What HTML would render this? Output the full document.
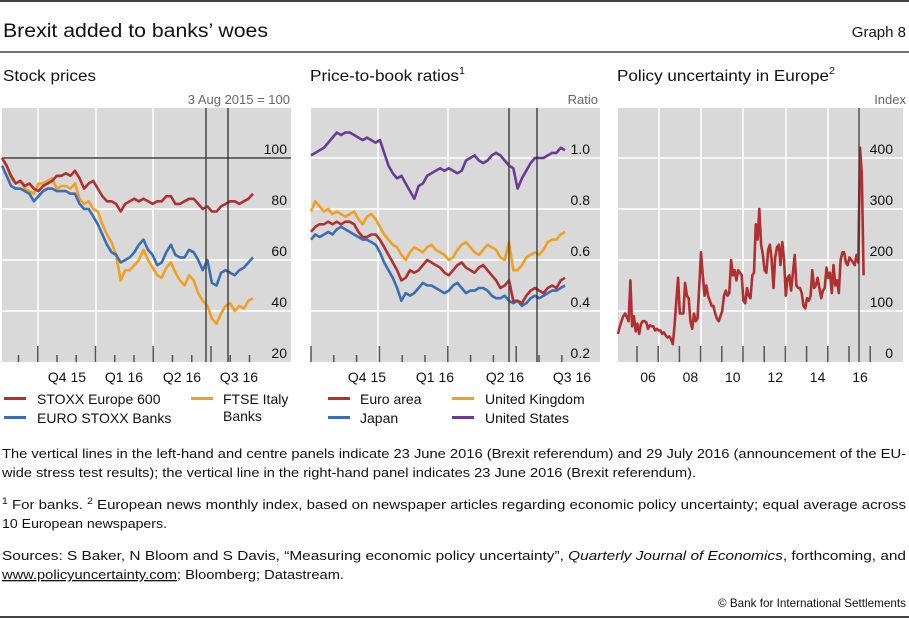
<!DOCTYPE html>
<html><head><meta charset="utf-8"><style>
body{margin:0;background:#fff;}
svg{display:block;font-family:"Liberation Sans",sans-serif;}
</style></head><body>
<svg id="c" width="909" height="619" viewBox="0 0 909 619" xmlns="http://www.w3.org/2000/svg">
<line x1="0" y1="1" x2="909" y2="1" stroke="#444" stroke-width="2"/>
<text x="3" y="37" font-size="19" fill="#111" textLength="265" lengthAdjust="spacingAndGlyphs">Brexit added to banks’ woes</text>
<text x="906" y="37" font-size="15" fill="#111" text-anchor="end">Graph 8</text>
<line x1="0" y1="52" x2="909" y2="52" stroke="#444" stroke-width="1.5"/>
<text x="3" y="81" font-size="16" fill="#111" textLength="93" lengthAdjust="spacingAndGlyphs">Stock prices</text>
<text x="310" y="81" font-size="16" fill="#111" textLength="155" lengthAdjust="spacingAndGlyphs">Price-to-book ratios<tspan font-size="10" dy="-7">1</tspan></text>
<text x="617" y="81" font-size="16" fill="#111" textLength="218" lengthAdjust="spacingAndGlyphs">Policy uncertainty in Europe<tspan font-size="10" dy="-7">2</tspan></text>
<text x="290" y="104" font-size="13" fill="#666" text-anchor="end">3 Aug 2015 = 100</text>
<text x="598" y="104" font-size="13" fill="#666" text-anchor="end">Ratio</text>
<text x="906" y="104" font-size="13" fill="#666" text-anchor="end">Index</text>
<g id="p1"></g>
<g id="p2"></g>
<g id="p3"></g>
<g font-size="14" fill="#111">
<g><rect x="4" y="397" width="22" height="3" fill="#b03030"/><text x="37" y="404">STOXX Europe 600</text></g>
<g><rect x="4" y="416" width="22" height="3" fill="#3b6db4"/><text x="37" y="423">EURO STOXX Banks</text></g>
<g><rect x="191" y="397" width="22" height="3" fill="#f0a020"/><text x="223" y="404">FTSE Italy</text><text x="223" y="421">Banks</text></g>
<g><rect x="328" y="397" width="22" height="3" fill="#b03030"/><text x="360" y="404">Euro area</text></g>
<g><rect x="328" y="416" width="22" height="3" fill="#3b6db4"/><text x="360" y="423">Japan</text></g>
<g><rect x="452" y="397" width="22" height="3" fill="#f0a020"/><text x="485" y="404">United Kingdom</text></g>
<g><rect x="452" y="416" width="22" height="3" fill="#6b3a96"/><text x="485" y="423">United States</text></g>
</g>
<g font-size="13" fill="#111">
<text x="2" y="458" textLength="904" lengthAdjust="spacingAndGlyphs">The vertical lines in the left-hand and centre panels indicate 23 June 2016 (Brexit referendum) and 29 July 2016 (announcement of the EU-</text>
<text x="2" y="477" textLength="694" lengthAdjust="spacingAndGlyphs">wide stress test results); the vertical line in the right-hand panel indicates 23 June 2016 (Brexit referendum).</text>
<text x="2" y="509" textLength="904" lengthAdjust="spacingAndGlyphs"><tspan font-size="9" dy="-5">1</tspan><tspan dy="5">  For banks.   </tspan><tspan font-size="9" dy="-5">2</tspan><tspan dy="5">  European news monthly index, based on newspaper articles regarding economic policy uncertainty; equal average across</tspan></text>
<text x="2" y="528" textLength="165" lengthAdjust="spacingAndGlyphs">10 European newspapers.</text>
<text x="2" y="560" textLength="904" lengthAdjust="spacingAndGlyphs">Sources: S Baker, N Bloom and S Davis, “Measuring economic policy uncertainty”, <tspan font-style="italic">Quarterly Journal of Economics</tspan>, forthcoming, and</text>
<text x="2" y="579" textLength="342" lengthAdjust="spacingAndGlyphs"><tspan text-decoration="underline">www.policyuncertainty.com</tspan>; Bloomberg; Datastream.</text>
<text x="906" y="607" font-size="12" text-anchor="end" textLength="188" lengthAdjust="spacingAndGlyphs">© Bank for International Settlements</text>
</g>
<line x1="0" y1="617" x2="909" y2="617" stroke="#444" stroke-width="2"/>
</svg>
<script>
// Panel 1: stock prices (weekly, 3 Aug 2015 = 100)
const stoxx600 = [100,97,93,90,91,89,90,88,87,89,90,91,93,93,94,93,95,92,88,90,91,88,85,83,83,82,79,82,83,84,83,84,83,82,83,83,85,85,82,82,83,84,84,82,80,81,79,79,81,82,83,83,82,83,84,86];
const ftseItalyBanks = [100,97,92,90,91,88,87,86,90,90,91,92,88,89,89,88,90,84,82,83,80,79,74,70,67,62,52,56,56,58,60,64,60,57,54,53,57,59,55,52,50,54,52,47,44,42,37,35,39,42,43,40,42,41,44,45];
const euroStoxxBanks = [97,93,89,88,88,87,86,83,85,87,88,88,87,87,87,86,86,82,80,80,77,74,70,66,63,62,59,60,61,63,66,68,64,62,58,59,63,66,62,61,61,64,63,60,56,60,51,50,55,56,55,54,56,57,59,61];
const p1Ticks = [20,40,60,80,100];
const p1QuarterLabels = ["Q4 15","Q1 16","Q2 16","Q3 16"];
// Panel 2: price-to-book ratios
const pbUS = [1.01,1.02,1.03,1.04,1.06,1.08,1.10,1.09,1.10,1.10,1.09,1.08,1.07,1.08,1.07,1.06,1.07,1.02,0.97,0.94,0.92,0.93,0.90,0.87,0.84,0.89,0.90,0.93,0.94,0.95,0.96,0.95,0.96,0.95,0.94,0.95,0.99,1.00,1.01,0.99,0.98,0.99,1.01,1.02,1.01,0.99,0.97,0.96,0.88,0.92,0.95,0.98,1.00,1.00,1.00,1.01,1.02,1.02,1.04,1.03];
const pbUK = [0.79,0.83,0.81,0.79,0.80,0.78,0.79,0.78,0.77,0.78,0.79,0.76,0.74,0.77,0.78,0.76,0.73,0.70,0.68,0.66,0.65,0.62,0.60,0.63,0.65,0.64,0.63,0.65,0.66,0.64,0.63,0.62,0.60,0.61,0.64,0.66,0.67,0.65,0.63,0.62,0.64,0.66,0.65,0.64,0.61,0.60,0.67,0.56,0.56,0.58,0.61,0.62,0.63,0.62,0.64,0.67,0.68,0.68,0.70,0.71];
const pbEuro = [0.71,0.73,0.74,0.74,0.75,0.74,0.75,0.74,0.75,0.75,0.74,0.71,0.69,0.69,0.70,0.70,0.68,0.65,0.62,0.59,0.56,0.52,0.53,0.56,0.55,0.56,0.58,0.60,0.59,0.58,0.57,0.55,0.54,0.56,0.58,0.59,0.57,0.56,0.55,0.57,0.58,0.56,0.54,0.52,0.49,0.50,0.52,0.44,0.44,0.43,0.46,0.48,0.49,0.48,0.47,0.49,0.50,0.49,0.52,0.53];
const pbJapan = [0.68,0.70,0.69,0.70,0.71,0.70,0.72,0.73,0.72,0.71,0.70,0.69,0.68,0.68,0.67,0.66,0.63,0.59,0.56,0.53,0.49,0.44,0.47,0.46,0.47,0.49,0.51,0.50,0.50,0.49,0.48,0.47,0.48,0.50,0.51,0.49,0.47,0.48,0.48,0.49,0.49,0.48,0.46,0.45,0.45,0.46,0.44,0.43,0.44,0.42,0.43,0.45,0.46,0.45,0.46,0.47,0.48,0.48,0.49,0.50];
const p2Ticks = [0.2,0.4,0.6,0.8,1.0];
// Panel 3: policy uncertainty (monthly from Jan 2005)
const epu = [55,70,80,90,95,88,80,160,70,90,60,75,
 55,75,80,80,78,65,72,70,70,62,65,62,
 62,55,58,52,48,50,45,35,70,120,165,95,
 95,95,155,130,125,80,65,95,80,85,150,215,
 170,130,150,130,120,110,110,95,85,80,90,100,
 130,140,130,135,200,170,180,160,180,175,170,120,
 115,145,130,125,170,175,270,240,300,230,210,180,
 175,220,230,200,145,205,225,230,190,235,200,130,
 165,170,140,175,210,150,145,145,135,110,105,125,
 120,130,180,145,150,165,145,125,140,145,185,165,
 175,135,190,150,160,135,200,215,215,195,190,205,
 200,195,190,210,195,420,370,170];
const p3Ticks = [0,100,200,300,400];
const p3YearLabels = ["06","08","10","12","14","16"];

const NS = "http://www.w3.org/2000/svg";
function mk(parent, tag, attrs){ const e=document.createElementNS(NS,tag); for(const k in attrs) e.setAttribute(k,attrs[k]); parent.appendChild(e); return e; }
function txt(parent, x, y, s, anchor, size, fill){ const t=mk(parent,'text',{x:x,y:y,'text-anchor':anchor,'font-size':size,fill:fill}); t.textContent=s; return t; }
const TOP=108, BOT=362;

function panel(g, x0, x1, ymin, ymax, ticks, fmt, labelX){
  const ys = v => BOT - (v-ymin)/(ymax-ymin)*(BOT-TOP);
  const bg = mk(g,'rect',{x:x0,y:TOP,width:x1-x0,height:BOT-TOP,fill:'#d9d9d9'});
  
  
  ticks.forEach(v=>{
    const y=ys(v);
    const l=mk(g,'line',{x1:x0,x2:x1,y1:y,y2:y,stroke:'#fff','stroke-width':1.5});
    
    
  });
  return ys;
}
function tickLabels(g, ticks, ys, fmt, x){
  ticks.forEach(v=>{
    const t=txt(g,x,ys(v)-4,fmt(v),'end',14,'#111');
    
    
  });
}
function vline(g,x,color,w,name){
  const l=mk(g,'line',{x1:x,x2:x,y1:TOP,y2:BOT,stroke:color,'stroke-width':w});
  
  
}
function series(g, arr, xs, ys, color, name){
  const d = arr.map((v,i)=>(i?'L':'M')+xs(i).toFixed(1)+','+ys(v).toFixed(1)).join('');
  const p=mk(g,'path',{d:d,fill:'none',stroke:color,'stroke-width':2.6,'stroke-linejoin':'round'});
  
  
}
function bottomTicks(g, list){
  list.forEach(t=>{
    const l=mk(g,'line',{x1:t[0],x2:t[0],y1:BOT-(t[1]?16:7),y2:BOT,stroke:'#555','stroke-width':1.5});
    
    
  });
}
function xLabels(g, labels, xs){
  labels.forEach((s,i)=>{
    const t=txt(g,xs[i],382,s,'middle',14,'#111');
    
    
  });
}
const RED='#b03030', YEL='#f0a020', BLU='#3b6db4', PUR='#6b3a96';

// Panel 1
(function(){
  const g=document.getElementById('p1');
  const ys=panel(g,2,291,20,119.6,[40,60,80],null);
  [38,96,153].forEach(x=>vline(g,x,'#fff',1.5,'x-gridline'));
  const ref=mk(g,'line',{x1:2,x2:291,y1:ys(100),y2:ys(100),stroke:'#444','stroke-width':1.5});
  
  
  const n=stoxx600.length;
  const xs=i=>2+i*(251/(n-1));
  series(g,ftseItalyBanks,xs,ys,YEL,'series-ftse-italy-banks');
  series(g,euroStoxxBanks,xs,ys,BLU,'series-euro-stoxx-banks');
  series(g,stoxx600,xs,ys,RED,'series-stoxx-europe-600');
  vline(g,206,'#444',1.5,'brexit-line');
  vline(g,228,'#222',1.2,'stress-test-line');
  const tk=[]; for(let k=0;k<13;k++) tk.push([18.5+k*19.25,k%3===1]);
  bottomTicks(g,tk);
  tickLabels(g,p1Ticks,ys,v=>String(v),287);
  xLabels(g,p1QuarterLabels,[67,124,182,239]);
})();
// Panel 2
(function(){
  const g=document.getElementById('p2');
  const ys=panel(g,311,600,0.2,1.196,[0.4,0.6,0.8,1.0],null);
  [378,448].forEach(x=>vline(g,x,'#fff',1.5,'x-gridline'));
  const n=pbUS.length;
  const xs=i=>311+i*(254/(n-1));
  series(g,pbJapan,xs,ys,BLU,'series-japan');
  series(g,pbEuro,xs,ys,RED,'series-euro-area');
  series(g,pbUK,xs,ys,YEL,'series-united-kingdom');
  series(g,pbUS,xs,ys,PUR,'series-united-states');
  vline(g,509,'#444',1.5,'brexit-line');
  vline(g,537,'#222',1.2,'stress-test-line');
  const tk=[]; for(let k=0;k<12;k++) tk.push([311+k*22.8,k%3===0]);
  bottomTicks(g,tk);
  tickLabels(g,p2Ticks,ys,v=>v.toFixed(1),590);
  xLabels(g,p1QuarterLabels,[367,435,505,572]);
})();
// Panel 3
(function(){
  const g=document.getElementById('p3');
  const ys=panel(g,618,903,0,498,[100,200,300,400],null);
  [659,701,743,786,828].forEach(x=>vline(g,x,'#fff',1.5,'x-gridline'));
  const xs=i=>616+i*(21.2/12)+2;
  series(g,epu,xs,ys,RED,'series-policy-uncertainty');
  vline(g,859,'#333',1.2,'brexit-line');
  const tk=[]; for(let k=0;k<12;k++) tk.push([637+k*21.2,true]);
  bottomTicks(g,tk);
  tickLabels(g,p3Ticks,ys,v=>String(v),893);
  xLabels(g,p3YearLabels,p3YearLabels.map((s,i)=>648+i*42.4));
})();
</script>
</body></html>
